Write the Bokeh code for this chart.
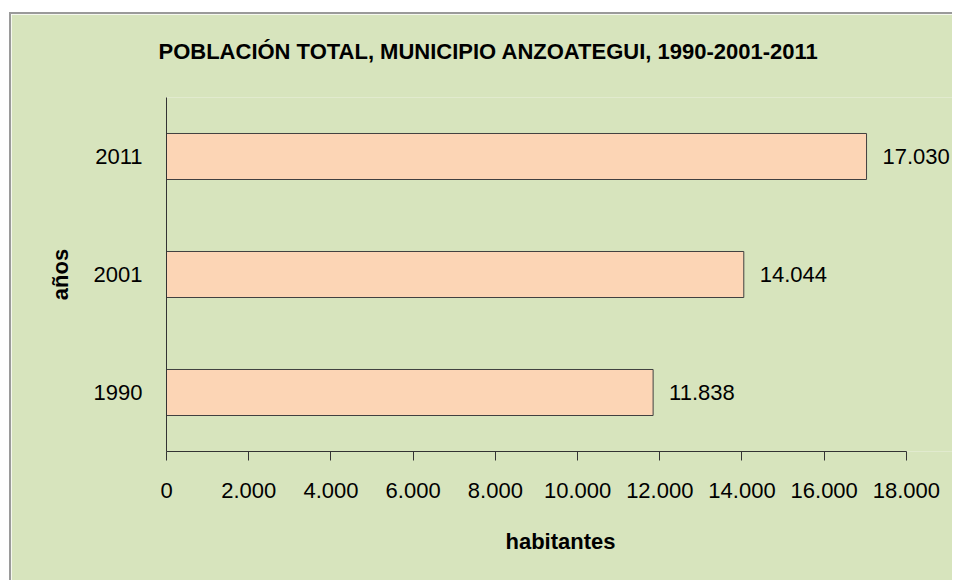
from bokeh.plotting import figure
from bokeh.models import (ColumnDataSource, FactorRange, Range1d, FixedTicker,
                          LabelSet, Title)
from bokeh.core.properties import value
from bokeh.embed import file_html
from bokeh.resources import INLINE

# ---- data ----
years = ["1990", "2001", "2011"]
population = [11838, 14044, 17030]
x_ticks = [0, 2000, 4000, 6000, 8000, 10000, 12000, 14000, 16000, 18000]
x_tick_labels = ["0", "2.000", "4.000", "6.000", "8.000", "10.000",
                 "12.000", "14.000", "16.000", "18.000"]
title_text = "POBLACIÓN TOTAL, MUNICIPIO ANZOATEGUI, 1990-2001-2011"
x_title = "habitantes"
y_title = "años"

FONT = "Liberation Sans"
FS = "22px"
BG = "#D7E4BD"

value_labels = [f"{v:,}".replace(",", ".") for v in population]
src = ColumnDataSource(dict(year=years, pop=population, lbl=value_labels))

p = figure(width=943, height=568,
           y_range=FactorRange(*years, range_padding=0),
           x_range=Range1d(0, 19170),
           output_backend="svg", toolbar_location=None,
           min_border_left=155, min_border_right=0,
           min_border_top=83, min_border_bottom=131)
p.margin = (12, 0, 0, 9)
p.styles = {"border-top": "2px solid #9a9a9a", "border-left": "2px solid #9a9a9a"}

p.background_fill_color = BG
p.border_fill_color = BG
p.outline_line_color = None
p.xgrid.grid_line_color = None
p.ygrid.grid_line_color = None

p.hbar(y="year", right="pop", left=0, height=0.39, source=src,
       fill_color="#FCD5B5", line_color="#404040", line_width=1)

labels = LabelSet(x="pop", y="year", text="lbl", source=src,
                  x_offset=16, text_baseline="middle",
                  text_font=value(FONT), text_font_size=value(FS),
                  text_color="#000000")
p.add_layout(labels)

# x axis
xa = p.xaxis[0]
xa.bounds = (x_ticks[0], x_ticks[-1])
xa.ticker = FixedTicker(ticks=x_ticks)
xa.major_label_overrides = {t: l for t, l in zip(x_ticks, x_tick_labels)}
xa.minor_tick_line_color = None
xa.major_tick_in = 0
xa.major_tick_out = 9
xa.axis_line_color = "#333333"
xa.major_tick_line_color = "#333333"
xa.major_label_text_font = FONT
xa.major_label_text_font_size = FS
xa.major_label_text_color = "#000000"
xa.major_label_standoff = 22
xa.axis_label = x_title
xa.axis_label_text_font = FONT
xa.axis_label_text_font_size = FS
xa.axis_label_text_font_style = "bold"
xa.axis_label_text_color = "#000000"
xa.axis_label_standoff = 28

# y axis
ya = p.yaxis[0]
ya.major_tick_in = 0
ya.major_tick_out = 0
ya.major_tick_line_color = None
ya.minor_tick_line_color = None
ya.axis_line_color = "#333333"
ya.major_label_text_font = FONT
ya.major_label_text_font_size = FS
ya.major_label_text_color = "#000000"
ya.major_label_standoff = 24
ya.axis_label = y_title
ya.axis_label_text_font = FONT
ya.axis_label_text_font_size = FS
ya.axis_label_text_font_style = "bold"
ya.axis_label_text_color = "#000000"
ya.axis_label_standoff = 18

# spacer between the frame and the title, then the title itself
p.add_layout(Title(text=" ", text_font=FONT, text_font_size=FS, standoff=2),
             "above")
p.add_layout(Title(text=title_text, align="left", offset=-8, standoff=10,
                   text_font=FONT, text_font_size=FS,
                   text_font_style="bold", text_color="#000000"), "above")

open("out.html", "w").write(file_html(p, INLINE))
